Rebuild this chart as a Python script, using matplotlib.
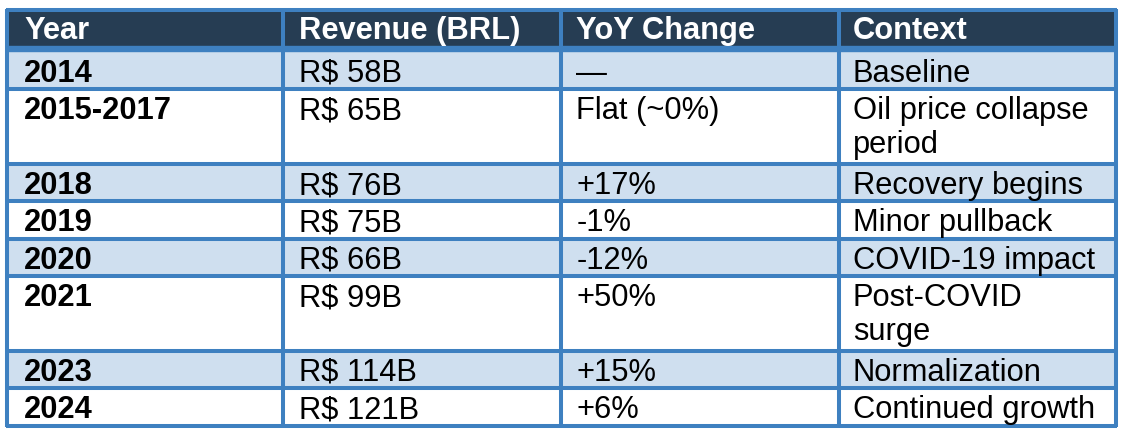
import numpy as np
import matplotlib.pyplot as plt
from matplotlib.patches import Rectangle

plt.rcParams['font.family'] = ['Liberation Sans', 'DejaVu Sans']

# table contents
headers = ["Year", "Revenue (BRL)", "YoY Change", "Context"]
years = ["2014", "2015-2017", "2018", "2019", "2020", "2021", "2023", "2024"]
revenue = ["R$ 58B", "R$ 65B", "R$ 76B", "R$ 75B", "R$ 66B", "R$ 99B", "R$ 114B", "R$ 121B"]
yoy = ["\u2014", "Flat (~0%)", "+17%", "-1%", "-12%", "+50%", "+15%", "+6%"]
context = ["Baseline", "Oil price collapse\nperiod", "Recovery begins", "Minor pullback",
           "COVID-19 impact", "Post-COVID\nsurge", "Normalization", "Continued growth"]

W, H = 1122, 432
header_bg = '#263d53'
stripe_bg = '#cfdfef'
line_col = '#3e80c0'

col_x = [7, 283.5, 561.5, 839, 1116]
top = 10
header_bot = 49
body_top = 52
bottom = 425.5

rows = list(zip(years, revenue, yoy, context))
nlines = [max(c.count('\n') + 1 for c in r) for r in rows]
unit = (bottom - body_top) / sum(nlines)
edges = [body_top]
for k in nlines:
    edges.append(edges[-1] + k * unit)

fig = plt.figure(figsize=(W / 100, H / 100), dpi=100)
ax = fig.add_axes([0, 0, 1, 1])
ax.set_xlim(0, W)
ax.set_ylim(H, 0)
ax.axis('off')

# backgrounds
ax.add_patch(Rectangle((col_x[0], top), col_x[-1] - col_x[0], header_bot - top,
                       facecolor=header_bg, edgecolor='none'))
for i in range(len(rows)):
    if i % 2 == 0:
        y0 = header_bot if i == 0 else edges[i]
        ax.add_patch(Rectangle((col_x[0], y0), col_x[-1] - col_x[0], edges[i + 1] - y0,
                               facecolor=stripe_bg, edgecolor='none'))

# grid lines
lw = 2.9
ax.hlines([top] + edges[1:], col_x[0] - 1, col_x[-1] + 1, colors=line_col, linewidth=lw)
ax.hlines(header_bot, col_x[0], col_x[-1], colors=line_col, linewidth=4.6)
ax.vlines(col_x, top - 1, bottom + 1, colors=line_col, linewidth=lw)

pad = [17, 16, 15, 14]
fs = 22.2
line_h = 34

for j, h in enumerate(headers):
    ax.text(col_x[j] + pad[j], top + 29, h, color='white', fontsize=fs,
            fontweight='bold', va='baseline', ha='left')

for i, r in enumerate(rows):
    for j, cell in enumerate(r):
        for k, part in enumerate(cell.split('\n')):
            ax.text(col_x[j] + pad[j], edges[i] + 30 + k * line_h, part, color='black',
                    fontsize=fs, fontweight='bold' if j == 0 else 'normal',
                    va='baseline', ha='left')

fig.savefig('out.png', dpi=100)
